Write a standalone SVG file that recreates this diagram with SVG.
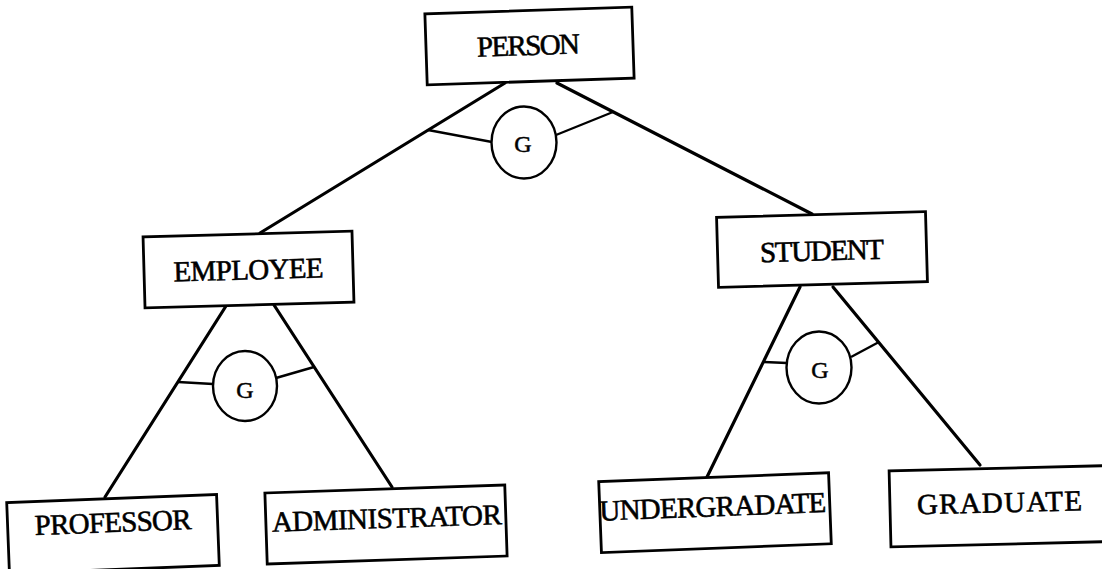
<svg xmlns="http://www.w3.org/2000/svg" width="1102" height="569" viewBox="0 0 1102 569">
  <style>
    .box { fill: #fff; stroke: #000; stroke-width: 2.8; }
    .lbl { font-family: "Liberation Serif", "Times New Roman", serif; font-size: 29px; fill: #000; stroke: #000; stroke-width: 0.6; text-anchor: middle; }
    .edge { stroke: #000; stroke-width: 3.2; fill: none; stroke-linecap: round; }
    .arc { stroke: #000; stroke-width: 2.4; fill: none; }
    .gen { fill: #fff; stroke: #000; stroke-width: 2.4; }
    .g { font-family: "Liberation Serif", "Times New Roman", serif; font-size: 24px; fill: #000; stroke: #000; stroke-width: 0.5; text-anchor: middle; }
  </style>
  <rect width="1102" height="569" fill="#fff"/>

  <!-- hierarchy edges and generalization arcs -->
  <g id="connectors">
    <line class="edge" x1="505" y1="83" x2="260" y2="233"/>
    <line class="edge" x1="557" y1="83" x2="812" y2="214"/>
    <line class="edge" x1="226" y1="306" x2="105" y2="497"/>
    <line class="edge" x1="274" y1="305" x2="392" y2="487"/>
    <line class="edge" x1="800" y1="287" x2="707" y2="477"/>
    <line class="edge" x1="833" y1="287" x2="980" y2="465"/>

    <line class="arc" x1="428" y1="130" x2="492" y2="142"/>
    <line class="arc" x1="556" y1="135" x2="613" y2="112"/>
    <line class="arc" x1="178" y1="382" x2="213" y2="384"/>
    <line class="arc" x1="276" y1="378" x2="314" y2="367"/>
    <line class="arc" x1="764" y1="362" x2="787" y2="363"/>
    <line class="arc" x1="851" y1="357" x2="879" y2="342"/>
  </g>

  <g id="gen-person">
    <ellipse class="gen" cx="524" cy="142.5" rx="32.5" ry="36"/>
    <text class="g" x="523" y="152">G</text>
  </g>
  <g id="gen-employee">
    <ellipse class="gen" cx="245" cy="386" rx="32" ry="35"/>
    <text class="g" x="245" y="398">G</text>
  </g>
  <g id="gen-student">
    <ellipse class="gen" cx="819" cy="367.5" rx="32.5" ry="36"/>
    <text class="g" x="820" y="378">G</text>
  </g>

  <g id="person" transform="translate(529.5,46) rotate(-1.9)">
    <rect class="box" x="-103.5" y="-35.5" width="207" height="71"/>
    <text class="lbl" x="-1" y="9" textLength="103">PERSON</text>
  </g>
  <g id="employee" transform="translate(248.5,269.5) rotate(-1.6)">
    <rect class="box" x="-104.5" y="-35.5" width="209" height="71"/>
    <text class="lbl" x="0" y="10" textLength="150">EMPLOYEE</text>
  </g>
  <g id="student" transform="translate(822,249.5) rotate(-1.6)">
    <rect class="box" x="-104.5" y="-35" width="209" height="70"/>
    <text class="lbl" x="0" y="11" textLength="124">STUDENT</text>
  </g>
  <g id="professor" transform="translate(113,534) rotate(-2.2)">
    <rect class="box" x="-105" y="-35.5" width="210" height="71"/>
    <text class="lbl" x="0.5" y="-2" textLength="157">PROFESSOR</text>
  </g>
  <g id="administrator" transform="translate(386,524.5) rotate(-1.9)">
    <rect class="box" x="-120" y="-35.5" width="240" height="71"/>
    <text class="lbl" x="1" y="3.5" textLength="230">ADMINISTRATOR</text>
  </g>
  <g id="undergradate" transform="translate(715,512.7) rotate(-2.2)">
    <rect class="box" x="-115" y="-35.5" width="230" height="71"/>
    <text class="lbl" x="-2" y="3.5" textLength="227">UNDERGRADATE</text>
  </g>
  <g id="graduate" transform="translate(1010,506) rotate(-1.4)">
    <rect class="box" x="-120" y="-38" width="240" height="76"/>
    <text class="lbl" x="-10.5" y="6" textLength="165">GRADUATE</text>
  </g>
</svg>
